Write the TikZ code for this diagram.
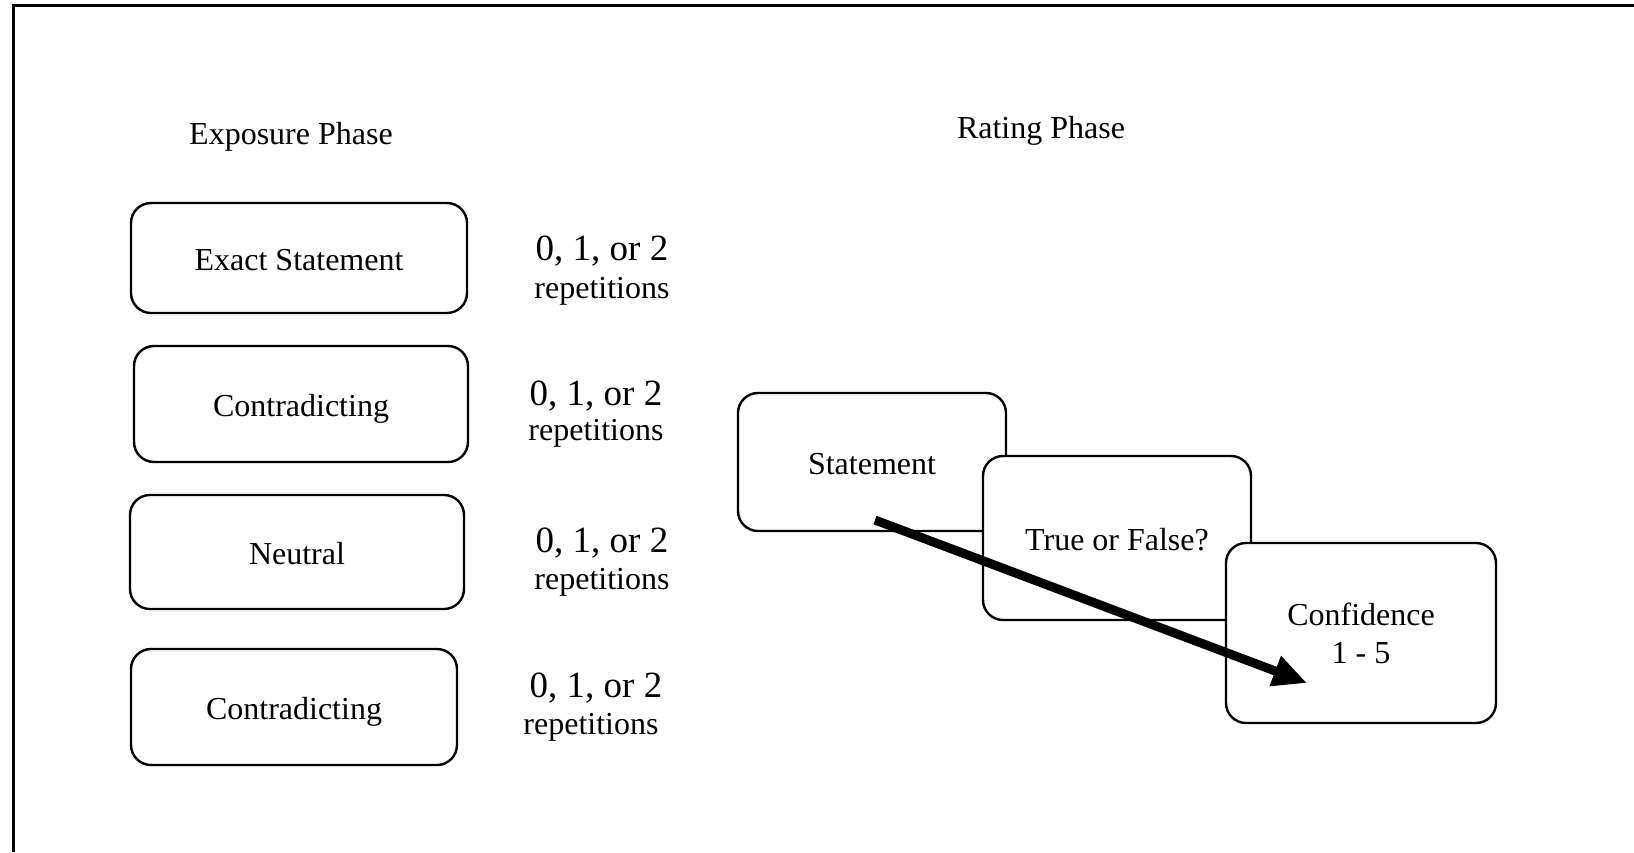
\documentclass[tikz,border=0pt]{standalone}
\usepackage{fontspec}
\setmainfont{Liberation Serif}
\usepackage{tikz}
\usetikzlibrary{arrows.meta}

\begin{document}
\begin{tikzpicture}[x=0.5pt, y=-0.5pt,
    every node/.style={font=\fontsize{16}{19}\selectfont, inner sep=1pt, yshift=-1.5pt},
    phasebox/.style={draw, line width=1.2pt, rounded corners=10pt, fill=white},
    onetext/.style={text height=13pt, text depth=1pt},
    reps/.style={font=\fontsize{18.5}{22}\selectfont}]
    \useasboundingbox (0,0) rectangle (1634,852);
    \draw[line width=1.5pt] (13,852) -- (13,5) -- (1634,5);

    \node (expo) at (291,134) {Exposure Phase};
    \node (rate) at (1041,128) {Rating Phase};

    \node[phasebox, onetext, minimum width=168pt, minimum height=55pt] (exact) at (299,255) {Exact Statement};
    \node[phasebox, onetext, minimum width=167pt, minimum height=58pt] (contra1) at (301,401) {Contradicting};
    \node[phasebox, onetext, minimum width=167pt, minimum height=57pt] (neutral) at (297,549) {Neutral};
    \node[phasebox, onetext, minimum width=163pt, minimum height=58pt] (contra2) at (294,704) {Contradicting};

    \node[reps] (num1) at (602,248) {0, 1, or 2};
    \node (rep1) at (602,288) {repetitions};
    \node[reps] (num2) at (596,393) {0, 1, or 2};
    \node (rep2) at (596,430) {repetitions};
    \node[reps] (num3) at (602,540) {0, 1, or 2};
    \node (rep3) at (602,579) {repetitions};
    \node[reps] (num4) at (596,685) {0, 1, or 2};
    \node (rep4) at (591,724) {repetitions};

    \node[phasebox, onetext, minimum width=134pt, minimum height=69pt] (stmt) at (872,459) {Statement};
    \node[phasebox, onetext, minimum width=134pt, minimum height=82pt] (tf) at (1117,535) {True or False?};
    \node[phasebox, minimum width=135pt, minimum height=90pt, align=center] (conf) at (1361,630) {Confidence\\1 - 5};

    \coordinate (arrstart) at (875,517);
    \coordinate (arrend) at (1307,680);
    \draw[line width=4.5pt, -{Triangle[length=17pt, width=15pt]}] (arrstart) -- (arrend);
\end{tikzpicture}
\end{document}
